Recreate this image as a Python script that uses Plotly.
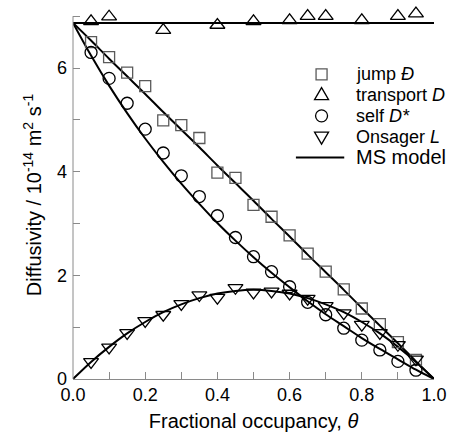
import plotly.graph_objects as go

# ---- data ----
theta = [0.05, 0.10, 0.15, 0.20, 0.25, 0.30, 0.35, 0.40, 0.45, 0.50,
         0.55, 0.60, 0.65, 0.70, 0.75, 0.80, 0.85, 0.90, 0.95]
jump_D = [6.50, 6.21, 5.91, 5.65, 4.99, 4.90, 4.65, 3.98, 3.88, 3.36,
          3.13, 2.77, 2.42, 2.07, 1.73, 1.36, 1.06, 0.71, 0.37]
self_D = [6.30, 5.80, 5.32, 4.82, 4.36, 3.92, 3.52, 3.15, 2.73, 2.36,
          2.07, 1.78, 1.48, 1.24, 0.98, 0.75, 0.56, 0.34, 0.17]
onsager_L = [0.33, 0.61, 0.89, 1.12, 1.24, 1.45, 1.62, 1.57, 1.76, 1.67,
             1.69, 1.65, 1.55, 1.41, 1.27, 1.05, 0.89, 0.66, 0.38]

theta_t = [0.05, 0.10, 0.25, 0.40, 0.50, 0.60, 0.65, 0.70, 0.80, 0.90, 0.95]
transport_D = [6.90, 6.99, 6.73, 6.83, 6.90, 6.92, 7.00, 7.00, 6.92, 7.00, 7.05]

# MS model curves
theta_m = [0.00, 0.05, 0.10, 0.15, 0.20, 0.25, 0.30, 0.35, 0.40, 0.45, 0.50,
           0.55, 0.60, 0.65, 0.70, 0.75, 0.80, 0.85, 0.90, 0.95, 1.00]
ms_jump = [6.87, 6.53, 6.18, 5.84, 5.50, 5.15, 4.81, 4.47, 4.12, 3.78, 3.44,
           3.09, 2.75, 2.40, 2.06, 1.72, 1.37, 1.03, 0.69, 0.34, 0.00]
ms_self = [6.87, 6.24, 5.66, 5.13, 4.64, 4.19, 3.77, 3.38, 3.01, 2.67, 2.35,
           2.05, 1.77, 1.50, 1.25, 1.02, 0.79, 0.58, 0.38, 0.18, 0.00]
ms_onsager = [0.00, 0.33, 0.62, 0.88, 1.10, 1.29, 1.44, 1.56, 1.65, 1.70, 1.72,
              1.70, 1.65, 1.56, 1.44, 1.29, 1.10, 0.88, 0.62, 0.33, 0.00]
ms_transport = [6.87] * len(theta_m)

legend_labels = ["jump <i>Đ</i>", "transport <i>D</i>", "self <i>D*</i>",
                 "Onsager <i>L</i>", "MS model"]

FONT = "Liberation Sans, Arial, Helvetica, sans-serif"
W, H = 458, 440
ML, MR, MT, MB = 73, 19, 11, 57
PW, PH = W - ML - MR, H - MT - MB
Y_MAX_AXIS = 7.0     # visible axis line / last tick
Y_RANGE_TOP = 7.1    # a little head-room so the top markers are not dropped

fig = go.Figure()

line_style = dict(color="black", width=2)
for yy, shape in [(ms_transport, "linear"), (ms_jump, "spline"),
                  (ms_self, "spline"), (ms_onsager, "spline")]:
    fig.add_trace(go.Scatter(
        x=theta_m, y=yy, mode="lines", line=dict(shape=shape, **line_style),
        name="MS model", showlegend=False, hoverinfo="skip"))

SQ_COLOR = "#5a5a5a"
fig.add_trace(go.Scatter(
    x=theta, y=jump_D, mode="markers", name="jump Đ", showlegend=False,
    marker=dict(symbol="square-open", size=11, color=SQ_COLOR, line=dict(width=1.3)),
    cliponaxis=False))
fig.add_trace(go.Scatter(
    x=theta_t, y=transport_D, mode="markers", name="transport D", showlegend=False,
    marker=dict(symbol="triangle-up-open", size=13, color="black", line=dict(width=1.3)),
    cliponaxis=False))
fig.add_trace(go.Scatter(
    x=theta, y=self_D, mode="markers", name="self D*", showlegend=False,
    marker=dict(symbol="circle-open", size=12, color="black", line=dict(width=1.3)),
    cliponaxis=False))
fig.add_trace(go.Scatter(
    x=theta, y=onsager_L, mode="markers", name="Onsager L", showlegend=False,
    marker=dict(symbol="triangle-down-open", size=13, color="black", line=dict(width=1.3)),
    cliponaxis=False))

# left axis line drawn only up to the last tick (7)
fig.add_shape(type="line", xref="paper", yref="y", x0=0, x1=0, y0=0, y1=Y_MAX_AXIS,
              line=dict(color="#8a8a8a", width=1))

# ---- hand-built legend (symbols + real text) ----
def px_x(p):
    return (p - ML) / PW

def px_y(p):
    return (MT + PH - p) / PH

sym_x = 325
txt_x = 358
rows = [75, 96, 117, 138, 159]
sym_paths = [
    "M-5.5,-5.5 L5.5,-5.5 L5.5,5.5 L-5.5,5.5 Z",
    "M-7,-4.5 L7,-4.5 L0,7.5 Z",
    None,
    "M-7,4.5 L7,4.5 L0,-7.5 Z",
]
for i, ry in enumerate(rows):
    if i < 4:
        col = SQ_COLOR if i == 0 else "black"
        if sym_paths[i] is None:
            fig.add_shape(type="circle", xref="paper", yref="paper",
                          xsizemode="pixel", ysizemode="pixel",
                          xanchor=px_x(sym_x), yanchor=px_y(ry),
                          x0=-6, x1=6, y0=-6, y1=6,
                          line=dict(color=col, width=1.3))
        else:
            fig.add_shape(type="path", xref="paper", yref="paper",
                          xsizemode="pixel", ysizemode="pixel",
                          xanchor=px_x(sym_x), yanchor=px_y(ry),
                          path=sym_paths[i], line=dict(color=col, width=1.3))
        size = 18
    else:
        fig.add_shape(type="line", xref="paper", yref="paper",
                      x0=px_x(299), x1=px_x(348), y0=px_y(ry), y1=px_y(ry),
                      line=dict(color="black", width=2))
        size = 20
    fig.add_annotation(x=px_x(txt_x), y=px_y(ry), xref="paper", yref="paper",
                       xanchor="left", yanchor="middle", showarrow=False,
                       text=legend_labels[i],
                       font=dict(family=FONT, size=size, color="black"))

axis_common = dict(
    showgrid=False, zeroline=False, linecolor="#8a8a8a", linewidth=1,
    ticks="inside", ticklen=7, tickcolor="#8a8a8a", tickwidth=1,
    tickfont=dict(family=FONT, size=18, color="black"),
    mirror=False,
)

fig.update_xaxes(
    range=[0, 1], dtick=0.2, tick0=0, tickformat=".1f", ticklabelstandoff=-1,
    showline=True,
    minor=dict(dtick=0.1, ticks="inside", ticklen=7, tickcolor="#8a8a8a"),
    title=dict(text="Fractional occupancy, <i>θ</i>", font=dict(family=FONT, size=20, color="black"),
               standoff=10),
    **axis_common)
fig.update_yaxes(
    range=[0, Y_RANGE_TOP], dtick=2, tick0=0, ticklabelstandoff=5,
    showline=False,
    minor=dict(dtick=1, ticks="inside", ticklen=7, tickcolor="#8a8a8a"),
    title=dict(text="Diffusivity / 10<sup>-14</sup> m<sup>2</sup> s<sup>-1</sup>",
               font=dict(family=FONT, size=20, color="black"), standoff=9),
    **axis_common)

fig.update_layout(
    width=W, height=H,
    margin=dict(l=ML, r=MR, t=MT, b=MB),
    paper_bgcolor="white", plot_bgcolor="white",
    font=dict(family=FONT, size=16, color="black"),
    showlegend=False,
)

fig.write_html("out.html",
               config={"displayModeBar": False, "staticPlot": True},
               post_script="document.body.style.margin='0';"
                           "document.body.style.overflow='hidden';")
